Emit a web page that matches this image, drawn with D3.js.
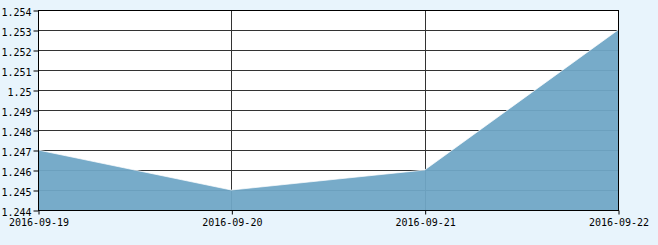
<!DOCTYPE html>
<html><head><meta charset="utf-8">
<script src="https://cdn.jsdelivr.net/npm/d3@7"></script>
<style>
html,body{margin:0;padding:0;background:#e8f4fc;}
svg{display:block;}
text{font-family:"DejaVu Sans Mono","Liberation Mono",monospace;font-size:10px;fill:#000;}
</style></head>
<body><svg id="c" width="658" height="245"></svg>
<script>
const dates = ["2016-09-19","2016-09-20","2016-09-21","2016-09-22"];
const values = [1.247, 1.245, 1.246, 1.253];
const yTicks = [1.244,1.245,1.246,1.247,1.248,1.249,1.25,1.251,1.252,1.253,1.254];
const yTickLabels = ["1.244","1.245","1.246","1.247","1.248","1.249","1.25","1.251","1.252","1.253","1.254"];

const svg = d3.select("#c");
const L = 38, R = 618, T = 10, B = 210;
const x = d3.scalePoint().domain(dates).range([L, R]);
const y = d3.scaleLinear().domain([1.244, 1.254]).range([B, T]);

svg.append("rect").attr("x", L).attr("y", T).attr("width", R - L).attr("height", B - T).attr("fill", "#fff");

svg.append("g").selectAll("line").data(yTicks).join("line")
  .attr("x1", L).attr("x2", R)
  .attr("y1", d => Math.round(y(d)) + 0.5).attr("y2", d => Math.round(y(d)) + 0.5)
  .attr("stroke", "#333").attr("stroke-width", 1);
svg.append("g").selectAll("line").data(dates).join("line")
  .attr("x1", d => Math.round(x(d)) + 0.5).attr("x2", d => Math.round(x(d)) + 0.5)
  .attr("y1", T).attr("y2", B)
  .attr("stroke", "#333").attr("stroke-width", 1);

const data = dates.map((d, i) => ({d, v: values[i]}));
const area = d3.area().x(p => x(p.d)).y0(B).y1(p => y(p.v));
svg.append("path").datum(data).attr("d", area)
  .attr("fill", "#70a6c6").attr("fill-opacity", 0.95);
const line = d3.line().x(p => x(p.d)).y(p => y(p.v));
svg.append("path").datum(data).attr("d", line)
  .attr("fill", "none").attr("stroke", "#fff").attr("stroke-opacity", 0.7).attr("stroke-width", 1);

svg.append("rect").attr("x", L + 0.5).attr("y", T + 0.5).attr("width", R - L).attr("height", B - T)
  .attr("fill", "none").attr("stroke", "#000").attr("stroke-width", 1);

const yAxis = d3.axisLeft(y).tickValues(yTicks).tickSize(5).tickPadding(2)
  .tickFormat((d, i) => yTickLabels[i]);
const gy = svg.append("g").attr("transform", `translate(${L + 0.5},0.5)`).call(yAxis);
gy.select(".domain").remove();
gy.selectAll("line").attr("stroke", "#000");
gy.selectAll("text").attr("dy", "0.45em");
gy.attr("font-family", null).attr("font-size", null);

const xAxis = d3.axisBottom(x).tickSize(4).tickPadding(4);
const gx = svg.append("g").attr("transform", `translate(0.5,${B + 0.5})`).call(xAxis);
gx.select(".domain").remove();
gx.selectAll("line").attr("stroke", "#000");
gx.attr("font-family", null).attr("font-size", null);
</script></body></html>
